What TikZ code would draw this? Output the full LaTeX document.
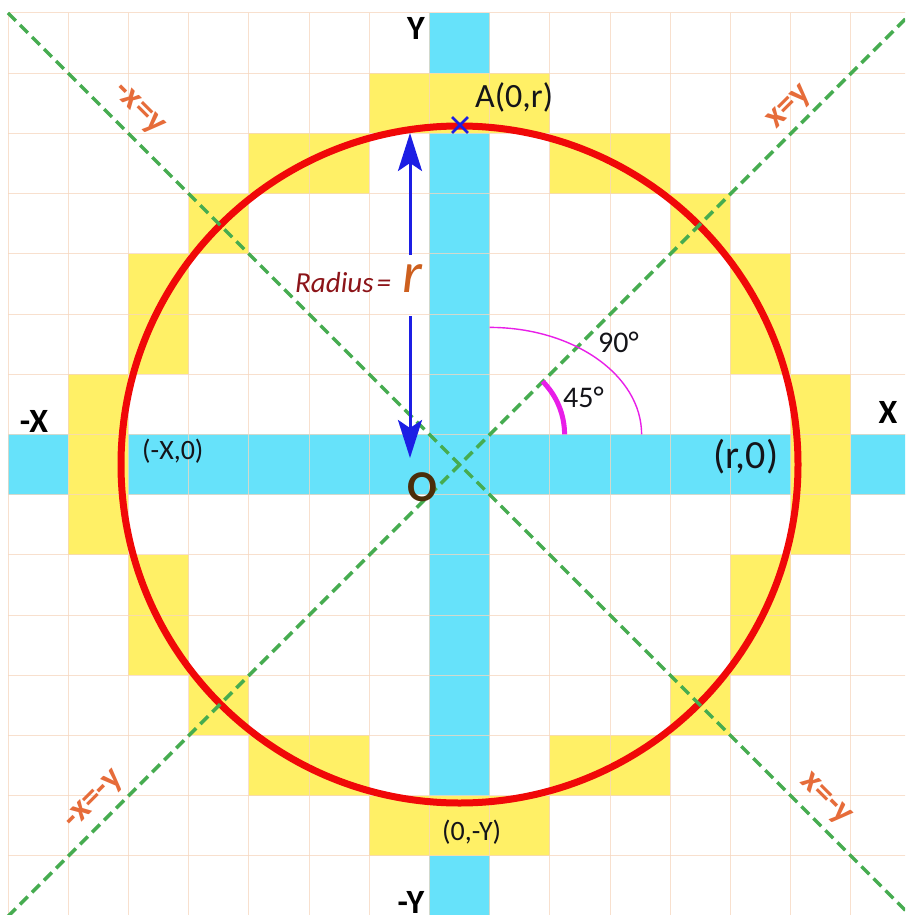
\documentclass[tikz,border=0pt]{standalone}
\usepackage{fontspec}
\setmainfont{Carlito}
\usetikzlibrary{arrows.meta,shapes.misc}
\definecolor{gridc}{RGB}{246,214,190}
\definecolor{cyanbar}{RGB}{102,226,250}
\definecolor{yell}{RGB}{255,240,102}
\definecolor{circred}{RGB}{240,8,8}
\definecolor{diagc}{RGB}{70,172,80}
\definecolor{lblc}{RGB}{230,108,58}
\definecolor{arrowblue}{RGB}{28,30,228}
\definecolor{magc}{RGB}{232,30,232}
\definecolor{obrown}{RGB}{75,45,10}
\definecolor{raddark}{RGB}{140,20,25}
\definecolor{radr}{RGB}{205,95,30}
\definecolor{txtc}{RGB}{20,20,25}
\newcommand{\fsz}[1]{\fontsize{#1}{#1}\selectfont}
\begin{document}
\begin{tikzpicture}[x=1pt,y=-1pt,
  gridline/.style={draw=gridc, line width=1pt, opacity=0.75},
  diagline/.style={draw=diagc, line width=3.5pt, dash pattern=on 11pt off 6pt},
  circstyle/.style={draw=circred, line width=7pt},
  radarrow/.style={draw=arrowblue, line width=3pt, -{Stealth[length=38pt,width=24pt,inset=8pt]}},
  axl/.style={font=\fsz{34}\bfseries, text=black, inner sep=0pt, anchor=base},
  ptl/.style={text=txtc, inner sep=0pt, anchor=base west},
  dlab/.style={font=\fsz{35}\bfseries, text=lblc, inner sep=0pt},
  anglab/.style={font=\fsz{30}, text=txtc, inner sep=0pt, anchor=base west}]
\useasboundingbox (0,0) rectangle (905,915);
\clip (0,0) rectangle (905,915);
\fill[white] (0,0) rectangle (905,915);
\def\cc{60.2}
% blue axes bars
\fill[cyanbar] (429.4,13) rectangle (489.6,916);
\fill[cyanbar] (8,434.4) rectangle (911,494.6);
% yellow rasterised circle cells
\foreach \i/\j in {6/1,7/1,8/1, 4/2,5/2,9/2,10/2, 3/3,11/3, 2/4,12/4, 2/5,12/5,
                   1/6,13/6, 1/7,13/7, 1/8,13/8, 2/9,12/9, 2/10,12/10, 3/11,11/11,
                   4/12,5/12,9/12,10/12, 6/13,7/13,8/13}
  \fill[yell] ({8+\i*\cc},{13+\j*\cc}) rectangle ++(\cc,\cc);
% grid
\foreach \k in {0,...,15} {
  \draw[gridline] ({8+\k*\cc},13) -- ({8+\k*\cc},916);
  \draw[gridline] (8,{13+\k*\cc}) -- (911,{13+\k*\cc});
}
% circle
\coordinate (center) at (459.5,464.5);
\draw[circstyle] (center) circle[radius=338.5];
% diagonals
\coordinate (TL) at (8,13);
\coordinate (BR) at (911,916);
\coordinate (BL) at (8,916.4);
\coordinate (TR) at (911,13.4);
\draw[diagline] (TL) -- (BR);
\draw[diagline] (BL) -- (TR);
% angle arcs
\draw[draw=magc, line width=1.4pt] (489.6,327.4) arc[start angle=-90, end angle=0, x radius=152, y radius=107];
\draw[draw=magc, line width=5pt] (542.6,381.4) arc[start angle=-45, end angle=0, radius=75];
% radius arrow
\coordinate (rtop) at (410,133);
\coordinate (rbot) at (410,458);
\coordinate (gapT) at (410,255);
\coordinate (gapB) at (410,316);
\draw[radarrow] (gapT) -- (rtop);
\draw[radarrow] (gapB) -- (rbot);
\node[inner sep=0pt, anchor=base west] (rad) at (295,292)
  {{\fsz{29}\itshape\color{raddark}Radius\hspace{3pt}=\hspace{11pt}}{\fsz{58}\itshape\color{radr}r}};
% axis labels
\node[axl] (ylab) at (416,40) {Y};
\node[axl] (mxlab) at (34,432) {-X};
\node[axl] (xlab) at (888,423) {X};
\node[axl] (mylab) at (411,913) {-Y};
% point labels
\node[ptl, font=\fsz{34}] (alab) at (475,108) {A(0,r)};
\node[cross out, draw=arrowblue, line width=2.8pt, minimum size=13pt, inner sep=0pt] (amark) at (460,125) {};
\node[ptl, font=\fsz{28}] (mx0) at (142,459) {(-X,0)};
\node[ptl, font=\fsz{40}] (r0) at (713,468) {(r,0)};
\node[ptl, font=\fsz{28}] (zmy) at (442,840) {(0,-Y)};
\node[inner sep=0pt, anchor=base, font=\fsz{44}\bfseries, text=obrown] (O) at (422,501) {O};
% angle labels
\node[anglab] (a45) at (563,407) {45°};
\node[anglab] (a90) at (598,352) {90°};
% diagonal labels
\node[dlab, rotate=-45] (l1) at (138,110) {-x=y};
\node[dlab, rotate=45] (l2) at (790,108) {x=y};
\node[dlab, rotate=45] (l3) at (95,801) {-x=-y};
\node[dlab, rotate=-45] (l4) at (825,800) {x=-y};
\end{tikzpicture}
\end{document}
